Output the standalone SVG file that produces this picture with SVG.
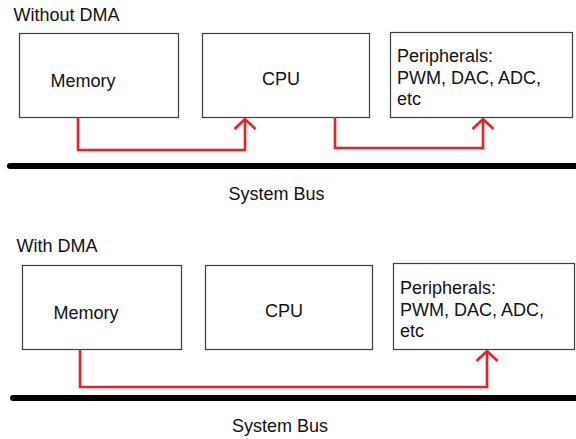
<svg xmlns="http://www.w3.org/2000/svg" width="576" height="439" viewBox="0 0 576 439">
  <style>
    .bg { fill: #ffffff; }
    .box { fill: #ffffff; stroke: #3c3c3c; stroke-width: 1.2; }
    .lbl { font-family: "Liberation Sans", Arial, sans-serif; font-size: 18px; fill: #111111; }
    .bus { stroke: #000000; stroke-width: 6; stroke-linecap: round; fill: none; }
    .flow { fill: none; stroke: #e8202a; stroke-width: 2.6; stroke-linejoin: miter; }
    .head { fill: none; stroke: #e8202a; stroke-width: 2.6; stroke-linejoin: miter; stroke-linecap: butt; }
  </style>
  <defs>
    <marker id="chevron" viewBox="-13 -13 26 26" markerWidth="26" markerHeight="26" refX="0" refY="0" orient="auto" markerUnits="userSpaceOnUse">
      <path class="head" d="M-10,-10.5 L0,0 L-10,10.5"/>
    </marker>
  </defs>

  <rect class="bg" x="0" y="0" width="576" height="439"/>

  <!-- Without DMA -->
  <text class="lbl" x="13.5" y="20.5">Without DMA</text>

  <g id="memory-1">
    <rect class="box" x="19.5" y="33.5" width="159" height="84"/>
    <text class="lbl" x="50.5" y="87">Memory</text>
  </g>
  <g id="cpu-1">
    <rect class="box" x="202.5" y="33.5" width="167" height="84"/>
    <text class="lbl" x="262" y="85">CPU</text>
  </g>
  <g id="peripherals-1">
    <rect class="box" x="390.5" y="32.5" width="182" height="85"/>
    <text class="lbl" x="397" y="62">Peripherals:</text>
    <text class="lbl" x="397" y="84">PWM, DAC, ADC,</text>
    <text class="lbl" x="397" y="104.5">etc</text>
  </g>
  <g id="bus-1">
    <line class="bus" x1="10" y1="166" x2="580" y2="166"/>
    <text class="lbl" x="228.5" y="200">System Bus</text>
  </g>

  <g id="connectors-1">
    <path class="flow" d="M78,117 V150 H245 V119" marker-end="url(#chevron)"/>
    <path class="flow" d="M335,117 V148 H483 V119" marker-end="url(#chevron)"/>
  </g>

  <!-- With DMA -->
  <text class="lbl" x="16.5" y="252">With DMA</text>

  <g id="memory-2">
    <rect class="box" x="22.5" y="265.5" width="159" height="84"/>
    <text class="lbl" x="53.5" y="319">Memory</text>
  </g>
  <g id="cpu-2">
    <rect class="box" x="205.5" y="265.5" width="167" height="84"/>
    <text class="lbl" x="265" y="317">CPU</text>
  </g>
  <g id="peripherals-2">
    <rect class="box" x="393.5" y="263.5" width="181" height="86"/>
    <text class="lbl" x="400" y="294">Peripherals:</text>
    <text class="lbl" x="400" y="316">PWM, DAC, ADC,</text>
    <text class="lbl" x="400" y="337">etc</text>
  </g>
  <g id="bus-2">
    <line class="bus" x1="13" y1="398" x2="580" y2="398"/>
    <text class="lbl" x="232" y="432">System Bus</text>
  </g>

  <g id="connectors-2">
    <path class="flow" d="M80,349 V387 H487 V351" marker-end="url(#chevron)"/>
  </g>
</svg>
